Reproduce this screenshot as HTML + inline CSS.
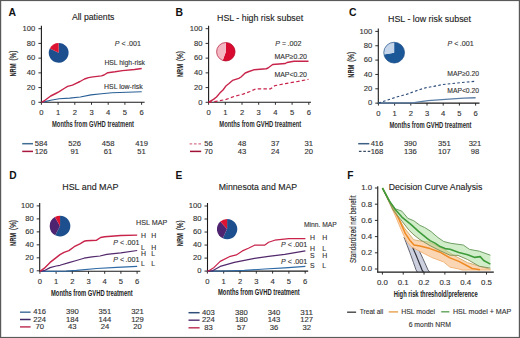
<!DOCTYPE html>
<html><head><meta charset="utf-8"><style>
html,body{margin:0;padding:0;background:#fff;width:520px;height:338px;overflow:hidden}
body{position:relative}
text{font-family:"Liberation Sans", sans-serif}
</style></head><body>
<svg width="520" height="338" viewBox="0 0 520 338" style="position:absolute;left:0;top:0">
<g font-family='"Liberation Sans", sans-serif'>
<rect x="0" y="0" width="520" height="338" fill="#fff"/>
<text x="8.60" y="15.70" font-size="10.4" fill="#111" text-anchor="start" font-weight="bold">A</text>
<text x="71.90" y="20.30" font-size="8.7" fill="#222" text-anchor="start" textLength="42.50" lengthAdjust="spacingAndGlyphs" stroke="#222" stroke-width="0.12">All patients</text>
<line x1="41.40" y1="25.70" x2="41.40" y2="102.90" stroke="#1a1a1a" stroke-width="1.1"/>
<line x1="38.40" y1="102.30" x2="41.40" y2="102.30" stroke="#1a1a1a" stroke-width="0.9"/>
<text x="35.30" y="104.60" font-size="7" fill="#333" text-anchor="end" textLength="4.25" lengthAdjust="spacingAndGlyphs" stroke="#333" stroke-width="0.12">0</text>
<line x1="38.40" y1="87.58" x2="41.40" y2="87.58" stroke="#1a1a1a" stroke-width="0.9"/>
<text x="35.30" y="89.88" font-size="7" fill="#333" text-anchor="end" textLength="8.50" lengthAdjust="spacingAndGlyphs" stroke="#333" stroke-width="0.12">20</text>
<line x1="38.40" y1="72.86" x2="41.40" y2="72.86" stroke="#1a1a1a" stroke-width="0.9"/>
<text x="35.30" y="75.16" font-size="7" fill="#333" text-anchor="end" textLength="8.50" lengthAdjust="spacingAndGlyphs" stroke="#333" stroke-width="0.12">40</text>
<line x1="38.40" y1="58.14" x2="41.40" y2="58.14" stroke="#1a1a1a" stroke-width="0.9"/>
<text x="35.30" y="60.44" font-size="7" fill="#333" text-anchor="end" textLength="8.50" lengthAdjust="spacingAndGlyphs" stroke="#333" stroke-width="0.12">60</text>
<line x1="38.40" y1="43.42" x2="41.40" y2="43.42" stroke="#1a1a1a" stroke-width="0.9"/>
<text x="35.30" y="45.72" font-size="7" fill="#333" text-anchor="end" textLength="8.50" lengthAdjust="spacingAndGlyphs" stroke="#333" stroke-width="0.12">80</text>
<line x1="38.40" y1="28.70" x2="41.40" y2="28.70" stroke="#1a1a1a" stroke-width="0.9"/>
<text x="35.30" y="31.00" font-size="7" fill="#333" text-anchor="end" textLength="12.75" lengthAdjust="spacingAndGlyphs" stroke="#333" stroke-width="0.12">100</text>
<line x1="40.85" y1="102.30" x2="144.60" y2="102.30" stroke="#1a1a1a" stroke-width="1.1"/>
<line x1="41.40" y1="102.30" x2="41.40" y2="104.80" stroke="#1a1a1a" stroke-width="0.9"/>
<text x="41.40" y="114.50" font-size="7" fill="#333" text-anchor="middle" textLength="4.25" lengthAdjust="spacingAndGlyphs" stroke="#333" stroke-width="0.12">0</text>
<line x1="58.10" y1="102.30" x2="58.10" y2="104.80" stroke="#1a1a1a" stroke-width="0.9"/>
<text x="58.10" y="114.50" font-size="7" fill="#333" text-anchor="middle" textLength="4.25" lengthAdjust="spacingAndGlyphs" stroke="#333" stroke-width="0.12">1</text>
<line x1="74.80" y1="102.30" x2="74.80" y2="104.80" stroke="#1a1a1a" stroke-width="0.9"/>
<text x="74.80" y="114.50" font-size="7" fill="#333" text-anchor="middle" textLength="4.25" lengthAdjust="spacingAndGlyphs" stroke="#333" stroke-width="0.12">2</text>
<line x1="91.50" y1="102.30" x2="91.50" y2="104.80" stroke="#1a1a1a" stroke-width="0.9"/>
<text x="91.50" y="114.50" font-size="7" fill="#333" text-anchor="middle" textLength="4.25" lengthAdjust="spacingAndGlyphs" stroke="#333" stroke-width="0.12">3</text>
<line x1="108.20" y1="102.30" x2="108.20" y2="104.80" stroke="#1a1a1a" stroke-width="0.9"/>
<text x="108.20" y="114.50" font-size="7" fill="#333" text-anchor="middle" textLength="4.25" lengthAdjust="spacingAndGlyphs" stroke="#333" stroke-width="0.12">4</text>
<line x1="124.90" y1="102.30" x2="124.90" y2="104.80" stroke="#1a1a1a" stroke-width="0.9"/>
<text x="124.90" y="114.50" font-size="7" fill="#333" text-anchor="middle" textLength="4.25" lengthAdjust="spacingAndGlyphs" stroke="#333" stroke-width="0.12">5</text>
<line x1="141.60" y1="102.30" x2="141.60" y2="104.80" stroke="#1a1a1a" stroke-width="0.9"/>
<text x="141.60" y="114.50" font-size="7" fill="#333" text-anchor="middle" textLength="4.25" lengthAdjust="spacingAndGlyphs" stroke="#333" stroke-width="0.12">6</text>
<text x="52.00" y="127.00" font-size="8.6" fill="#2a2a2a" text-anchor="start" font-weight="bold" textLength="82.00" lengthAdjust="spacingAndGlyphs">Months from GVHD treatment</text>
<text x="0.00" y="0.00" font-size="8.2" fill="#222" text-anchor="start" font-weight="bold" textLength="13.20" lengthAdjust="spacingAndGlyphs" transform="translate(16.1,76.6) rotate(-90)">NRM</text>
<text x="0.00" y="0.00" font-size="9.0" fill="#222" text-anchor="start" textLength="10.00" lengthAdjust="spacingAndGlyphs" stroke="#222" stroke-width="0.25" transform="translate(16.1,60.599999999999994) rotate(-90)">(%)</text>
<path d="M58.70,52.80 L58.70,42.90 A9.90,9.90 0 1 1 49.80,48.46 Z" fill="#1d4f8e"/>
<path d="M58.70,52.80 L49.80,48.46 A9.90,9.90 0 0 1 58.70,42.90 Z" fill="#dc1432"/>
<text x="114.70" y="46.00" font-size="7" fill="#333" text-anchor="start" font-style="italic" stroke="#333" stroke-width="0.12">P</text>
<text x="121.40" y="46.00" font-size="7" fill="#333" text-anchor="start" stroke="#333" stroke-width="0.12">&lt;</text>
<text x="127.00" y="46.00" font-size="7" fill="#333" text-anchor="start" textLength="13.90" lengthAdjust="spacingAndGlyphs" stroke="#333" stroke-width="0.12">.001</text>
<text x="104.40" y="64.80" font-size="7" fill="#333" text-anchor="start" textLength="40.60" lengthAdjust="spacingAndGlyphs" stroke="#333" stroke-width="0.12">HSL high-risk</text>
<text x="104.00" y="88.60" font-size="7" fill="#333" text-anchor="start" textLength="38.70" lengthAdjust="spacingAndGlyphs" stroke="#333" stroke-width="0.12">HSL low-risk</text>
<polyline points="41.40,102.30 46.00,101.40 50.70,100.20 59.20,98.70 69.70,98.10 80.30,97.00 90.90,94.90 101.50,93.80 112.00,92.80 126.90,92.20 141.70,91.70" fill="none" stroke="#2a5f96" stroke-width="1.1" stroke-linejoin="round"/>
<polyline points="41.40,102.30 44.00,101.00 48.00,98.00 50.70,96.00 55.70,93.50 59.20,91.70 64.90,88.00 67.60,86.40 72.50,85.10 76.10,83.30 80.00,81.50 84.50,79.00 88.50,77.60 93.00,76.90 101.50,75.90 104.00,75.00 107.80,72.70 115.00,71.80 122.60,70.60 134.50,69.50 141.70,68.50" fill="none" stroke="#c8234a" stroke-width="1.4" stroke-linejoin="round"/>
<line x1="22.20" y1="143.70" x2="33.00" y2="143.70" stroke="#3f6d93" stroke-width="1.5"/>
<line x1="22.20" y1="151.40" x2="33.00" y2="151.40" stroke="#a8173d" stroke-width="1.5"/>
<text x="41.20" y="146.10" font-size="6.9" fill="#333" text-anchor="middle" textLength="12.75" lengthAdjust="spacingAndGlyphs" stroke="#333" stroke-width="0.12">584</text>
<text x="41.20" y="153.60" font-size="6.9" fill="#333" text-anchor="middle" textLength="12.75" lengthAdjust="spacingAndGlyphs" stroke="#333" stroke-width="0.12">126</text>
<text x="74.65" y="146.10" font-size="6.9" fill="#333" text-anchor="middle" textLength="12.75" lengthAdjust="spacingAndGlyphs" stroke="#333" stroke-width="0.12">526</text>
<text x="74.65" y="153.60" font-size="6.9" fill="#333" text-anchor="middle" textLength="8.50" lengthAdjust="spacingAndGlyphs" stroke="#333" stroke-width="0.12">91</text>
<text x="108.10" y="146.10" font-size="6.9" fill="#333" text-anchor="middle" textLength="12.75" lengthAdjust="spacingAndGlyphs" stroke="#333" stroke-width="0.12">458</text>
<text x="108.10" y="153.60" font-size="6.9" fill="#333" text-anchor="middle" textLength="8.50" lengthAdjust="spacingAndGlyphs" stroke="#333" stroke-width="0.12">61</text>
<text x="141.55" y="146.10" font-size="6.9" fill="#333" text-anchor="middle" textLength="12.75" lengthAdjust="spacingAndGlyphs" stroke="#333" stroke-width="0.12">419</text>
<text x="141.55" y="153.60" font-size="6.9" fill="#333" text-anchor="middle" textLength="8.50" lengthAdjust="spacingAndGlyphs" stroke="#333" stroke-width="0.12">51</text>
<text x="175.40" y="15.70" font-size="10.4" fill="#111" text-anchor="start" font-weight="bold">B</text>
<text x="217.00" y="21.30" font-size="8.7" fill="#222" text-anchor="start" textLength="86.10" lengthAdjust="spacingAndGlyphs" stroke="#222" stroke-width="0.12">HSL - high risk subset</text>
<line x1="208.60" y1="25.70" x2="208.60" y2="102.90" stroke="#1a1a1a" stroke-width="1.1"/>
<line x1="205.60" y1="102.30" x2="208.60" y2="102.30" stroke="#1a1a1a" stroke-width="0.9"/>
<text x="202.40" y="104.60" font-size="7" fill="#333" text-anchor="end" textLength="4.25" lengthAdjust="spacingAndGlyphs" stroke="#333" stroke-width="0.12">0</text>
<line x1="205.60" y1="87.58" x2="208.60" y2="87.58" stroke="#1a1a1a" stroke-width="0.9"/>
<text x="202.40" y="89.88" font-size="7" fill="#333" text-anchor="end" textLength="8.50" lengthAdjust="spacingAndGlyphs" stroke="#333" stroke-width="0.12">20</text>
<line x1="205.60" y1="72.86" x2="208.60" y2="72.86" stroke="#1a1a1a" stroke-width="0.9"/>
<text x="202.40" y="75.16" font-size="7" fill="#333" text-anchor="end" textLength="8.50" lengthAdjust="spacingAndGlyphs" stroke="#333" stroke-width="0.12">40</text>
<line x1="205.60" y1="58.14" x2="208.60" y2="58.14" stroke="#1a1a1a" stroke-width="0.9"/>
<text x="202.40" y="60.44" font-size="7" fill="#333" text-anchor="end" textLength="8.50" lengthAdjust="spacingAndGlyphs" stroke="#333" stroke-width="0.12">60</text>
<line x1="205.60" y1="43.42" x2="208.60" y2="43.42" stroke="#1a1a1a" stroke-width="0.9"/>
<text x="202.40" y="45.72" font-size="7" fill="#333" text-anchor="end" textLength="8.50" lengthAdjust="spacingAndGlyphs" stroke="#333" stroke-width="0.12">80</text>
<line x1="205.60" y1="28.70" x2="208.60" y2="28.70" stroke="#1a1a1a" stroke-width="0.9"/>
<text x="202.40" y="31.00" font-size="7" fill="#333" text-anchor="end" textLength="12.75" lengthAdjust="spacingAndGlyphs" stroke="#333" stroke-width="0.12">100</text>
<line x1="208.05" y1="102.30" x2="311.00" y2="102.30" stroke="#1a1a1a" stroke-width="1.1"/>
<line x1="208.60" y1="102.30" x2="208.60" y2="104.80" stroke="#1a1a1a" stroke-width="0.9"/>
<text x="208.60" y="114.50" font-size="7" fill="#333" text-anchor="middle" textLength="4.25" lengthAdjust="spacingAndGlyphs" stroke="#333" stroke-width="0.12">0</text>
<line x1="225.30" y1="102.30" x2="225.30" y2="104.80" stroke="#1a1a1a" stroke-width="0.9"/>
<text x="225.30" y="114.50" font-size="7" fill="#333" text-anchor="middle" textLength="4.25" lengthAdjust="spacingAndGlyphs" stroke="#333" stroke-width="0.12">1</text>
<line x1="242.00" y1="102.30" x2="242.00" y2="104.80" stroke="#1a1a1a" stroke-width="0.9"/>
<text x="242.00" y="114.50" font-size="7" fill="#333" text-anchor="middle" textLength="4.25" lengthAdjust="spacingAndGlyphs" stroke="#333" stroke-width="0.12">2</text>
<line x1="258.70" y1="102.30" x2="258.70" y2="104.80" stroke="#1a1a1a" stroke-width="0.9"/>
<text x="258.70" y="114.50" font-size="7" fill="#333" text-anchor="middle" textLength="4.25" lengthAdjust="spacingAndGlyphs" stroke="#333" stroke-width="0.12">3</text>
<line x1="275.40" y1="102.30" x2="275.40" y2="104.80" stroke="#1a1a1a" stroke-width="0.9"/>
<text x="275.40" y="114.50" font-size="7" fill="#333" text-anchor="middle" textLength="4.25" lengthAdjust="spacingAndGlyphs" stroke="#333" stroke-width="0.12">4</text>
<line x1="292.10" y1="102.30" x2="292.10" y2="104.80" stroke="#1a1a1a" stroke-width="0.9"/>
<text x="292.10" y="114.50" font-size="7" fill="#333" text-anchor="middle" textLength="4.25" lengthAdjust="spacingAndGlyphs" stroke="#333" stroke-width="0.12">5</text>
<line x1="308.80" y1="102.30" x2="308.80" y2="104.80" stroke="#1a1a1a" stroke-width="0.9"/>
<text x="308.80" y="114.50" font-size="7" fill="#333" text-anchor="middle" textLength="4.25" lengthAdjust="spacingAndGlyphs" stroke="#333" stroke-width="0.12">6</text>
<text x="219.30" y="127.00" font-size="8.6" fill="#2a2a2a" text-anchor="start" font-weight="bold" textLength="82.00" lengthAdjust="spacingAndGlyphs">Months from GVHD treatment</text>
<text x="0.00" y="0.00" font-size="8.2" fill="#222" text-anchor="start" font-weight="bold" textLength="13.20" lengthAdjust="spacingAndGlyphs" transform="translate(183.3,77.1) rotate(-90)">NRM</text>
<text x="0.00" y="0.00" font-size="9.0" fill="#222" text-anchor="start" textLength="10.00" lengthAdjust="spacingAndGlyphs" stroke="#222" stroke-width="0.25" transform="translate(183.3,61.099999999999994) rotate(-90)">(%)</text>
<path d="M225.85,51.75 L225.85,42.50 A9.25,9.25 0 1 1 222.69,60.44 Z" fill="#d80a30"/>
<path d="M225.85,51.75 L222.69,60.44 A9.25,9.25 0 0 1 225.85,42.50 Z" fill="#f3b8c4"/>
<circle cx="225.85" cy="51.75" r="9.25" fill="none" stroke="#b3122f" stroke-width="0.7"/>
<text x="275.30" y="45.60" font-size="7" fill="#333" text-anchor="start" font-style="italic" stroke="#333" stroke-width="0.12">P</text>
<text x="282.00" y="45.60" font-size="7" fill="#333" text-anchor="start" stroke="#333" stroke-width="0.12">=</text>
<text x="287.60" y="45.60" font-size="7" fill="#333" text-anchor="start" textLength="13.90" lengthAdjust="spacingAndGlyphs" stroke="#333" stroke-width="0.12">.002</text>
<text x="274.40" y="59.00" font-size="7" fill="#333" text-anchor="start" textLength="32.60" lengthAdjust="spacingAndGlyphs" stroke="#333" stroke-width="0.12">MAP≥0.20</text>
<text x="274.40" y="77.00" font-size="7" fill="#333" text-anchor="start" textLength="32.60" lengthAdjust="spacingAndGlyphs" stroke="#333" stroke-width="0.12">MAP&lt;0.20</text>
<polyline points="208.60,102.30 217.70,101.10 226.20,99.40 234.60,96.25 243.10,94.10 250.00,91.50 255.80,88.85 270.60,88.85 274.80,85.70 285.40,83.60 298.10,81.40 308.50,79.30" fill="none" stroke="#c8234a" stroke-width="1.2" stroke-linejoin="round" stroke-dasharray="3.4,2.3"/>
<polyline points="208.60,102.30 209.50,101.60 213.50,99.40 216.50,97.00 219.80,93.10 223.00,90.00 226.20,85.70 229.00,83.50 232.50,80.40 238.80,78.30 241.00,77.00 245.20,73.00 249.00,71.50 253.70,69.80 266.30,68.75 268.00,68.00 272.70,64.50 285.40,63.50 287.00,62.50 293.90,61.30 308.50,61.30" fill="none" stroke="#c8234a" stroke-width="1.4" stroke-linejoin="round"/>
<line x1="189.60" y1="143.90" x2="201.50" y2="143.90" stroke="#d9738a" stroke-width="1.4" stroke-dasharray="2.6,1.8"/>
<line x1="190.00" y1="151.40" x2="201.20" y2="151.40" stroke="#9e1236" stroke-width="1.5"/>
<text x="208.50" y="146.10" font-size="6.9" fill="#333" text-anchor="middle" textLength="8.50" lengthAdjust="spacingAndGlyphs" stroke="#333" stroke-width="0.12">56</text>
<text x="208.50" y="153.60" font-size="6.9" fill="#333" text-anchor="middle" textLength="8.50" lengthAdjust="spacingAndGlyphs" stroke="#333" stroke-width="0.12">70</text>
<text x="241.90" y="146.10" font-size="6.9" fill="#333" text-anchor="middle" textLength="8.50" lengthAdjust="spacingAndGlyphs" stroke="#333" stroke-width="0.12">48</text>
<text x="241.90" y="153.60" font-size="6.9" fill="#333" text-anchor="middle" textLength="8.50" lengthAdjust="spacingAndGlyphs" stroke="#333" stroke-width="0.12">43</text>
<text x="275.30" y="146.10" font-size="6.9" fill="#333" text-anchor="middle" textLength="8.50" lengthAdjust="spacingAndGlyphs" stroke="#333" stroke-width="0.12">37</text>
<text x="275.30" y="153.60" font-size="6.9" fill="#333" text-anchor="middle" textLength="8.50" lengthAdjust="spacingAndGlyphs" stroke="#333" stroke-width="0.12">24</text>
<text x="308.70" y="146.10" font-size="6.9" fill="#333" text-anchor="middle" textLength="8.50" lengthAdjust="spacingAndGlyphs" stroke="#333" stroke-width="0.12">31</text>
<text x="308.70" y="153.60" font-size="6.9" fill="#333" text-anchor="middle" textLength="8.50" lengthAdjust="spacingAndGlyphs" stroke="#333" stroke-width="0.12">20</text>
<text x="349.10" y="15.70" font-size="10.4" fill="#111" text-anchor="start" font-weight="bold">C</text>
<text x="388.00" y="22.20" font-size="8.7" fill="#222" text-anchor="start" textLength="83.00" lengthAdjust="spacingAndGlyphs" stroke="#222" stroke-width="0.12">HSL - low risk subset</text>
<line x1="378.30" y1="28.40" x2="378.30" y2="103.75" stroke="#1a1a1a" stroke-width="1.1"/>
<line x1="375.30" y1="103.15" x2="378.30" y2="103.15" stroke="#1a1a1a" stroke-width="0.9"/>
<text x="372.20" y="105.45" font-size="7" fill="#333" text-anchor="end" textLength="4.25" lengthAdjust="spacingAndGlyphs" stroke="#333" stroke-width="0.12">0</text>
<line x1="375.30" y1="88.80" x2="378.30" y2="88.80" stroke="#1a1a1a" stroke-width="0.9"/>
<text x="372.20" y="91.10" font-size="7" fill="#333" text-anchor="end" textLength="8.50" lengthAdjust="spacingAndGlyphs" stroke="#333" stroke-width="0.12">20</text>
<line x1="375.30" y1="74.45" x2="378.30" y2="74.45" stroke="#1a1a1a" stroke-width="0.9"/>
<text x="372.20" y="76.75" font-size="7" fill="#333" text-anchor="end" textLength="8.50" lengthAdjust="spacingAndGlyphs" stroke="#333" stroke-width="0.12">40</text>
<line x1="375.30" y1="60.10" x2="378.30" y2="60.10" stroke="#1a1a1a" stroke-width="0.9"/>
<text x="372.20" y="62.40" font-size="7" fill="#333" text-anchor="end" textLength="8.50" lengthAdjust="spacingAndGlyphs" stroke="#333" stroke-width="0.12">60</text>
<line x1="375.30" y1="45.75" x2="378.30" y2="45.75" stroke="#1a1a1a" stroke-width="0.9"/>
<text x="372.20" y="48.05" font-size="7" fill="#333" text-anchor="end" textLength="8.50" lengthAdjust="spacingAndGlyphs" stroke="#333" stroke-width="0.12">80</text>
<line x1="375.30" y1="31.40" x2="378.30" y2="31.40" stroke="#1a1a1a" stroke-width="0.9"/>
<text x="372.20" y="33.70" font-size="7" fill="#333" text-anchor="end" textLength="12.75" lengthAdjust="spacingAndGlyphs" stroke="#333" stroke-width="0.12">100</text>
<line x1="377.85" y1="103.10" x2="479.50" y2="103.10" stroke="#1a1a1a" stroke-width="1.1"/>
<line x1="378.40" y1="103.10" x2="378.40" y2="105.60" stroke="#1a1a1a" stroke-width="0.9"/>
<text x="378.40" y="115.70" font-size="7" fill="#333" text-anchor="middle" textLength="4.25" lengthAdjust="spacingAndGlyphs" stroke="#333" stroke-width="0.12">0</text>
<line x1="394.60" y1="103.10" x2="394.60" y2="105.60" stroke="#1a1a1a" stroke-width="0.9"/>
<text x="394.60" y="115.70" font-size="7" fill="#333" text-anchor="middle" textLength="4.25" lengthAdjust="spacingAndGlyphs" stroke="#333" stroke-width="0.12">1</text>
<line x1="410.80" y1="103.10" x2="410.80" y2="105.60" stroke="#1a1a1a" stroke-width="0.9"/>
<text x="410.80" y="115.70" font-size="7" fill="#333" text-anchor="middle" textLength="4.25" lengthAdjust="spacingAndGlyphs" stroke="#333" stroke-width="0.12">2</text>
<line x1="427.00" y1="103.10" x2="427.00" y2="105.60" stroke="#1a1a1a" stroke-width="0.9"/>
<text x="427.00" y="115.70" font-size="7" fill="#333" text-anchor="middle" textLength="4.25" lengthAdjust="spacingAndGlyphs" stroke="#333" stroke-width="0.12">3</text>
<line x1="443.20" y1="103.10" x2="443.20" y2="105.60" stroke="#1a1a1a" stroke-width="0.9"/>
<text x="443.20" y="115.70" font-size="7" fill="#333" text-anchor="middle" textLength="4.25" lengthAdjust="spacingAndGlyphs" stroke="#333" stroke-width="0.12">4</text>
<line x1="459.40" y1="103.10" x2="459.40" y2="105.60" stroke="#1a1a1a" stroke-width="0.9"/>
<text x="459.40" y="115.70" font-size="7" fill="#333" text-anchor="middle" textLength="4.25" lengthAdjust="spacingAndGlyphs" stroke="#333" stroke-width="0.12">5</text>
<line x1="475.60" y1="103.10" x2="475.60" y2="105.60" stroke="#1a1a1a" stroke-width="0.9"/>
<text x="475.60" y="115.70" font-size="7" fill="#333" text-anchor="middle" textLength="4.25" lengthAdjust="spacingAndGlyphs" stroke="#333" stroke-width="0.12">6</text>
<text x="389.40" y="127.60" font-size="8.6" fill="#2a2a2a" text-anchor="start" font-weight="bold" textLength="82.00" lengthAdjust="spacingAndGlyphs">Months from GVHD treatment</text>
<text x="0.00" y="0.00" font-size="8.2" fill="#222" text-anchor="start" font-weight="bold" textLength="13.20" lengthAdjust="spacingAndGlyphs" transform="translate(353.5,77.8) rotate(-90)">NRM</text>
<text x="0.00" y="0.00" font-size="9.0" fill="#222" text-anchor="start" textLength="10.00" lengthAdjust="spacingAndGlyphs" stroke="#222" stroke-width="0.25" transform="translate(353.5,61.8) rotate(-90)">(%)</text>
<path d="M394.15,52.65 L394.15,42.25 A10.40,10.40 0 1 1 383.91,54.46 Z" fill="#1c5797"/>
<path d="M394.15,52.65 L383.91,54.46 A10.40,10.40 0 0 1 394.15,42.25 Z" fill="#c5d6ea"/>
<circle cx="394.15" cy="52.65" r="10.4" fill="none" stroke="#1c4f88" stroke-width="0.7"/>
<text x="447.45" y="45.60" font-size="7" fill="#333" text-anchor="start" font-style="italic" stroke="#333" stroke-width="0.12">P</text>
<text x="454.15" y="45.60" font-size="7" fill="#333" text-anchor="start" stroke="#333" stroke-width="0.12">&lt;</text>
<text x="459.75" y="45.60" font-size="7" fill="#333" text-anchor="start" textLength="13.90" lengthAdjust="spacingAndGlyphs" stroke="#333" stroke-width="0.12">.001</text>
<text x="447.25" y="76.40" font-size="7" fill="#333" text-anchor="start" textLength="31.80" lengthAdjust="spacingAndGlyphs" stroke="#333" stroke-width="0.12">MAP≥0.20</text>
<text x="447.25" y="93.00" font-size="7" fill="#333" text-anchor="start" textLength="31.80" lengthAdjust="spacingAndGlyphs" stroke="#333" stroke-width="0.12">MAP&lt;0.20</text>
<polyline points="378.50,103.00 413.00,102.90 417.30,102.10 427.90,100.60 449.00,99.10 463.90,98.10 475.60,97.70" fill="none" stroke="#5a7ea6" stroke-width="1.4" stroke-linejoin="round"/>
<polyline points="378.50,103.10 381.90,101.90 395.00,97.50 406.25,94.40 415.00,91.25 420.00,89.50 426.25,87.60 433.75,86.40 442.50,84.50 452.50,83.50 461.25,82.60 467.50,82.00 475.60,81.30" fill="none" stroke="#2b4a78" stroke-width="1.1" stroke-linejoin="round" stroke-dasharray="2.6,2.2"/>
<line x1="358.20" y1="143.70" x2="369.30" y2="143.70" stroke="#3d5f84" stroke-width="1.5"/>
<line x1="358.90" y1="151.40" x2="370.50" y2="151.40" stroke="#3b4d66" stroke-width="1.1" stroke-dasharray="2.6,1.8"/>
<text x="377.00" y="146.00" font-size="6.9" fill="#333" text-anchor="middle" textLength="12.75" lengthAdjust="spacingAndGlyphs" stroke="#333" stroke-width="0.12">416</text>
<text x="377.00" y="153.60" font-size="6.9" fill="#333" text-anchor="middle" textLength="12.75" lengthAdjust="spacingAndGlyphs" stroke="#333" stroke-width="0.12">168</text>
<text x="410.30" y="146.00" font-size="6.9" fill="#333" text-anchor="middle" textLength="12.75" lengthAdjust="spacingAndGlyphs" stroke="#333" stroke-width="0.12">390</text>
<text x="410.30" y="153.60" font-size="6.9" fill="#333" text-anchor="middle" textLength="12.75" lengthAdjust="spacingAndGlyphs" stroke="#333" stroke-width="0.12">136</text>
<text x="444.30" y="146.00" font-size="6.9" fill="#333" text-anchor="middle" textLength="12.75" lengthAdjust="spacingAndGlyphs" stroke="#333" stroke-width="0.12">351</text>
<text x="444.30" y="153.60" font-size="6.9" fill="#333" text-anchor="middle" textLength="12.75" lengthAdjust="spacingAndGlyphs" stroke="#333" stroke-width="0.12">107</text>
<text x="475.00" y="146.00" font-size="6.9" fill="#333" text-anchor="middle" textLength="12.75" lengthAdjust="spacingAndGlyphs" stroke="#333" stroke-width="0.12">321</text>
<text x="475.00" y="153.60" font-size="6.9" fill="#333" text-anchor="middle" textLength="8.50" lengthAdjust="spacingAndGlyphs" stroke="#333" stroke-width="0.12">98</text>
<text x="9.30" y="179.40" font-size="10.2" fill="#111" text-anchor="start" font-weight="bold">D</text>
<text x="62.20" y="190.20" font-size="8.7" fill="#222" text-anchor="start" textLength="56.30" lengthAdjust="spacingAndGlyphs" stroke="#222" stroke-width="0.12">HSL and MAP</text>
<line x1="39.70" y1="202.90" x2="39.70" y2="271.40" stroke="#1a1a1a" stroke-width="1.1"/>
<line x1="36.70" y1="270.80" x2="39.70" y2="270.80" stroke="#1a1a1a" stroke-width="0.9"/>
<text x="33.80" y="273.10" font-size="7" fill="#333" text-anchor="end" textLength="4.25" lengthAdjust="spacingAndGlyphs" stroke="#333" stroke-width="0.12">0</text>
<line x1="36.70" y1="257.82" x2="39.70" y2="257.82" stroke="#1a1a1a" stroke-width="0.9"/>
<text x="33.80" y="260.12" font-size="7" fill="#333" text-anchor="end" textLength="8.50" lengthAdjust="spacingAndGlyphs" stroke="#333" stroke-width="0.12">20</text>
<line x1="36.70" y1="244.84" x2="39.70" y2="244.84" stroke="#1a1a1a" stroke-width="0.9"/>
<text x="33.80" y="247.14" font-size="7" fill="#333" text-anchor="end" textLength="8.50" lengthAdjust="spacingAndGlyphs" stroke="#333" stroke-width="0.12">40</text>
<line x1="36.70" y1="231.86" x2="39.70" y2="231.86" stroke="#1a1a1a" stroke-width="0.9"/>
<text x="33.80" y="234.16" font-size="7" fill="#333" text-anchor="end" textLength="8.50" lengthAdjust="spacingAndGlyphs" stroke="#333" stroke-width="0.12">60</text>
<line x1="36.70" y1="218.88" x2="39.70" y2="218.88" stroke="#1a1a1a" stroke-width="0.9"/>
<text x="33.80" y="221.18" font-size="7" fill="#333" text-anchor="end" textLength="8.50" lengthAdjust="spacingAndGlyphs" stroke="#333" stroke-width="0.12">80</text>
<line x1="36.70" y1="205.90" x2="39.70" y2="205.90" stroke="#1a1a1a" stroke-width="0.9"/>
<text x="33.80" y="208.20" font-size="7" fill="#333" text-anchor="end" textLength="12.75" lengthAdjust="spacingAndGlyphs" stroke="#333" stroke-width="0.12">100</text>
<line x1="39.35" y1="271.30" x2="140.30" y2="271.30" stroke="#1a1a1a" stroke-width="1.1"/>
<line x1="39.90" y1="271.30" x2="39.90" y2="273.80" stroke="#1a1a1a" stroke-width="0.9"/>
<text x="39.90" y="283.80" font-size="7" fill="#333" text-anchor="middle" textLength="4.25" lengthAdjust="spacingAndGlyphs" stroke="#333" stroke-width="0.12">0</text>
<line x1="56.10" y1="271.30" x2="56.10" y2="273.80" stroke="#1a1a1a" stroke-width="0.9"/>
<text x="56.10" y="283.80" font-size="7" fill="#333" text-anchor="middle" textLength="4.25" lengthAdjust="spacingAndGlyphs" stroke="#333" stroke-width="0.12">1</text>
<line x1="72.30" y1="271.30" x2="72.30" y2="273.80" stroke="#1a1a1a" stroke-width="0.9"/>
<text x="72.30" y="283.80" font-size="7" fill="#333" text-anchor="middle" textLength="4.25" lengthAdjust="spacingAndGlyphs" stroke="#333" stroke-width="0.12">2</text>
<line x1="88.50" y1="271.30" x2="88.50" y2="273.80" stroke="#1a1a1a" stroke-width="0.9"/>
<text x="88.50" y="283.80" font-size="7" fill="#333" text-anchor="middle" textLength="4.25" lengthAdjust="spacingAndGlyphs" stroke="#333" stroke-width="0.12">3</text>
<line x1="104.70" y1="271.30" x2="104.70" y2="273.80" stroke="#1a1a1a" stroke-width="0.9"/>
<text x="104.70" y="283.80" font-size="7" fill="#333" text-anchor="middle" textLength="4.25" lengthAdjust="spacingAndGlyphs" stroke="#333" stroke-width="0.12">4</text>
<line x1="120.90" y1="271.30" x2="120.90" y2="273.80" stroke="#1a1a1a" stroke-width="0.9"/>
<text x="120.90" y="283.80" font-size="7" fill="#333" text-anchor="middle" textLength="4.25" lengthAdjust="spacingAndGlyphs" stroke="#333" stroke-width="0.12">5</text>
<line x1="137.10" y1="271.30" x2="137.10" y2="273.80" stroke="#1a1a1a" stroke-width="0.9"/>
<text x="137.10" y="283.80" font-size="7" fill="#333" text-anchor="middle" textLength="4.25" lengthAdjust="spacingAndGlyphs" stroke="#333" stroke-width="0.12">6</text>
<text x="51.00" y="295.60" font-size="8.6" fill="#222" text-anchor="start" font-weight="bold" textLength="81.70" lengthAdjust="spacingAndGlyphs">Months from GVHD treatment</text>
<text x="0.00" y="0.00" font-size="8.2" fill="#222" text-anchor="start" font-weight="bold" textLength="13.20" lengthAdjust="spacingAndGlyphs" transform="translate(16.3,246.0) rotate(-90)">NRM</text>
<text x="0.00" y="0.00" font-size="9.0" fill="#222" text-anchor="start" textLength="10.00" lengthAdjust="spacingAndGlyphs" stroke="#222" stroke-width="0.25" transform="translate(16.3,230.0) rotate(-90)">(%)</text>
<path d="M60.05,226.05 L60.05,215.70 A10.35,10.35 0 1 1 55.19,235.19 Z" fill="#1d4f8e"/>
<path d="M60.05,226.05 L55.19,235.19 A10.35,10.35 0 0 1 54.87,217.09 Z" fill="#4e2470"/>
<path d="M60.05,226.05 L54.87,217.09 A10.35,10.35 0 0 1 60.05,215.70 Z" fill="#dc1432"/>
<text x="136.00" y="224.80" font-size="7" fill="#333" text-anchor="start" textLength="31.20" lengthAdjust="spacingAndGlyphs" stroke="#333" stroke-width="0.12">HSL MAP</text>
<text x="141.00" y="238.00" font-size="6.9" fill="#333" text-anchor="start" stroke="#333" stroke-width="0.12">H</text>
<text x="151.20" y="238.00" font-size="6.9" fill="#333" text-anchor="start" stroke="#333" stroke-width="0.12">H</text>
<text x="141.00" y="250.10" font-size="6.9" fill="#333" text-anchor="start" stroke="#333" stroke-width="0.12">L</text>
<text x="151.20" y="250.10" font-size="6.9" fill="#333" text-anchor="start" stroke="#333" stroke-width="0.12">H</text>
<text x="141.00" y="256.10" font-size="6.9" fill="#333" text-anchor="start" stroke="#333" stroke-width="0.12">H</text>
<text x="151.20" y="256.10" font-size="6.9" fill="#333" text-anchor="start" stroke="#333" stroke-width="0.12">L</text>
<text x="141.00" y="265.90" font-size="6.9" fill="#333" text-anchor="start" stroke="#333" stroke-width="0.12">L</text>
<text x="151.20" y="265.90" font-size="6.9" fill="#333" text-anchor="start" stroke="#333" stroke-width="0.12">L</text>
<text x="113.20" y="245.00" font-size="7" fill="#333" text-anchor="start" font-style="italic" stroke="#333" stroke-width="0.12">P</text>
<text x="119.90" y="245.00" font-size="7" fill="#333" text-anchor="start" stroke="#333" stroke-width="0.12">&lt;</text>
<text x="125.50" y="245.00" font-size="7" fill="#333" text-anchor="start" textLength="13.90" lengthAdjust="spacingAndGlyphs" stroke="#333" stroke-width="0.12">.001</text>
<text x="113.20" y="261.50" font-size="7" fill="#333" text-anchor="start" font-style="italic" stroke="#333" stroke-width="0.12">P</text>
<text x="119.90" y="261.50" font-size="7" fill="#333" text-anchor="start" stroke="#333" stroke-width="0.12">&lt;</text>
<text x="125.50" y="261.50" font-size="7" fill="#333" text-anchor="start" textLength="13.90" lengthAdjust="spacingAndGlyphs" stroke="#333" stroke-width="0.12">.001</text>
<polyline points="39.90,271.30 66.00,271.10 76.40,270.40 96.60,268.50 116.80,267.40 137.20,266.40" fill="none" stroke="#2e6aa6" stroke-width="1.2" stroke-linejoin="round"/>
<polyline points="39.90,271.30 44.10,270.70 50.10,267.60 56.20,266.00 60.00,265.30 68.90,262.60 76.40,260.50 84.00,258.20 92.00,256.80 100.00,256.00 106.70,254.30 120.80,252.80 137.20,250.50" fill="none" stroke="#52296c" stroke-width="1.2" stroke-linejoin="round"/>
<polyline points="39.90,271.30 44.10,268.40 50.10,262.40 56.20,257.60 60.00,254.60 64.00,252.30 68.90,250.60 74.20,246.70 80.40,243.60 84.00,241.30 86.50,240.80 96.60,240.20 100.60,237.50 104.70,236.70 120.80,235.50 137.20,235.10" fill="none" stroke="#c8234a" stroke-width="1.4" stroke-linejoin="round"/>
<line x1="20.00" y1="312.20" x2="30.60" y2="312.20" stroke="#4a74a0" stroke-width="1.5"/>
<line x1="20.00" y1="319.50" x2="30.60" y2="319.50" stroke="#3d2a66" stroke-width="1.5"/>
<line x1="20.00" y1="326.90" x2="30.60" y2="326.90" stroke="#c0375a" stroke-width="1.5"/>
<text x="39.70" y="314.30" font-size="6.9" fill="#333" text-anchor="middle" textLength="12.75" lengthAdjust="spacingAndGlyphs" stroke="#333" stroke-width="0.12">416</text>
<text x="39.70" y="321.80" font-size="6.9" fill="#333" text-anchor="middle" textLength="12.75" lengthAdjust="spacingAndGlyphs" stroke="#333" stroke-width="0.12">224</text>
<text x="39.70" y="329.20" font-size="6.9" fill="#333" text-anchor="middle" textLength="8.50" lengthAdjust="spacingAndGlyphs" stroke="#333" stroke-width="0.12">70</text>
<text x="72.30" y="314.30" font-size="6.9" fill="#333" text-anchor="middle" textLength="12.75" lengthAdjust="spacingAndGlyphs" stroke="#333" stroke-width="0.12">390</text>
<text x="72.30" y="321.80" font-size="6.9" fill="#333" text-anchor="middle" textLength="12.75" lengthAdjust="spacingAndGlyphs" stroke="#333" stroke-width="0.12">184</text>
<text x="72.30" y="329.20" font-size="6.9" fill="#333" text-anchor="middle" textLength="8.50" lengthAdjust="spacingAndGlyphs" stroke="#333" stroke-width="0.12">43</text>
<text x="104.90" y="314.30" font-size="6.9" fill="#333" text-anchor="middle" textLength="12.75" lengthAdjust="spacingAndGlyphs" stroke="#333" stroke-width="0.12">351</text>
<text x="104.90" y="321.80" font-size="6.9" fill="#333" text-anchor="middle" textLength="12.75" lengthAdjust="spacingAndGlyphs" stroke="#333" stroke-width="0.12">144</text>
<text x="104.90" y="329.20" font-size="6.9" fill="#333" text-anchor="middle" textLength="8.50" lengthAdjust="spacingAndGlyphs" stroke="#333" stroke-width="0.12">24</text>
<text x="137.50" y="314.30" font-size="6.9" fill="#333" text-anchor="middle" textLength="12.75" lengthAdjust="spacingAndGlyphs" stroke="#333" stroke-width="0.12">321</text>
<text x="137.50" y="321.80" font-size="6.9" fill="#333" text-anchor="middle" textLength="12.75" lengthAdjust="spacingAndGlyphs" stroke="#333" stroke-width="0.12">129</text>
<text x="137.50" y="329.20" font-size="6.9" fill="#333" text-anchor="middle" textLength="8.50" lengthAdjust="spacingAndGlyphs" stroke="#333" stroke-width="0.12">20</text>
<text x="175.40" y="179.10" font-size="10.2" fill="#111" text-anchor="start" font-weight="bold">E</text>
<text x="218.75" y="190.00" font-size="8.7" fill="#222" text-anchor="start" textLength="78.30" lengthAdjust="spacingAndGlyphs" stroke="#222" stroke-width="0.12">Minnesota and MAP</text>
<line x1="207.50" y1="203.00" x2="207.50" y2="271.70" stroke="#1a1a1a" stroke-width="1.1"/>
<line x1="204.50" y1="271.10" x2="207.50" y2="271.10" stroke="#1a1a1a" stroke-width="0.9"/>
<text x="201.40" y="273.40" font-size="7" fill="#333" text-anchor="end" textLength="4.25" lengthAdjust="spacingAndGlyphs" stroke="#333" stroke-width="0.12">0</text>
<line x1="204.50" y1="258.08" x2="207.50" y2="258.08" stroke="#1a1a1a" stroke-width="0.9"/>
<text x="201.40" y="260.38" font-size="7" fill="#333" text-anchor="end" textLength="8.50" lengthAdjust="spacingAndGlyphs" stroke="#333" stroke-width="0.12">20</text>
<line x1="204.50" y1="245.06" x2="207.50" y2="245.06" stroke="#1a1a1a" stroke-width="0.9"/>
<text x="201.40" y="247.36" font-size="7" fill="#333" text-anchor="end" textLength="8.50" lengthAdjust="spacingAndGlyphs" stroke="#333" stroke-width="0.12">40</text>
<line x1="204.50" y1="232.04" x2="207.50" y2="232.04" stroke="#1a1a1a" stroke-width="0.9"/>
<text x="201.40" y="234.34" font-size="7" fill="#333" text-anchor="end" textLength="8.50" lengthAdjust="spacingAndGlyphs" stroke="#333" stroke-width="0.12">60</text>
<line x1="204.50" y1="219.02" x2="207.50" y2="219.02" stroke="#1a1a1a" stroke-width="0.9"/>
<text x="201.40" y="221.32" font-size="7" fill="#333" text-anchor="end" textLength="8.50" lengthAdjust="spacingAndGlyphs" stroke="#333" stroke-width="0.12">80</text>
<line x1="204.50" y1="206.00" x2="207.50" y2="206.00" stroke="#1a1a1a" stroke-width="0.9"/>
<text x="201.40" y="208.30" font-size="7" fill="#333" text-anchor="end" textLength="12.75" lengthAdjust="spacingAndGlyphs" stroke="#333" stroke-width="0.12">100</text>
<line x1="206.85" y1="271.10" x2="308.20" y2="271.10" stroke="#1a1a1a" stroke-width="1.1"/>
<line x1="207.40" y1="271.10" x2="207.40" y2="273.60" stroke="#1a1a1a" stroke-width="0.9"/>
<text x="207.40" y="283.80" font-size="7" fill="#333" text-anchor="middle" textLength="4.25" lengthAdjust="spacingAndGlyphs" stroke="#333" stroke-width="0.12">0</text>
<line x1="223.70" y1="271.10" x2="223.70" y2="273.60" stroke="#1a1a1a" stroke-width="0.9"/>
<text x="223.70" y="283.80" font-size="7" fill="#333" text-anchor="middle" textLength="4.25" lengthAdjust="spacingAndGlyphs" stroke="#333" stroke-width="0.12">1</text>
<line x1="240.00" y1="271.10" x2="240.00" y2="273.60" stroke="#1a1a1a" stroke-width="0.9"/>
<text x="240.00" y="283.80" font-size="7" fill="#333" text-anchor="middle" textLength="4.25" lengthAdjust="spacingAndGlyphs" stroke="#333" stroke-width="0.12">2</text>
<line x1="256.30" y1="271.10" x2="256.30" y2="273.60" stroke="#1a1a1a" stroke-width="0.9"/>
<text x="256.30" y="283.80" font-size="7" fill="#333" text-anchor="middle" textLength="4.25" lengthAdjust="spacingAndGlyphs" stroke="#333" stroke-width="0.12">3</text>
<line x1="272.60" y1="271.10" x2="272.60" y2="273.60" stroke="#1a1a1a" stroke-width="0.9"/>
<text x="272.60" y="283.80" font-size="7" fill="#333" text-anchor="middle" textLength="4.25" lengthAdjust="spacingAndGlyphs" stroke="#333" stroke-width="0.12">4</text>
<line x1="288.90" y1="271.10" x2="288.90" y2="273.60" stroke="#1a1a1a" stroke-width="0.9"/>
<text x="288.90" y="283.80" font-size="7" fill="#333" text-anchor="middle" textLength="4.25" lengthAdjust="spacingAndGlyphs" stroke="#333" stroke-width="0.12">5</text>
<line x1="305.20" y1="271.10" x2="305.20" y2="273.60" stroke="#1a1a1a" stroke-width="0.9"/>
<text x="305.20" y="283.80" font-size="7" fill="#333" text-anchor="middle" textLength="4.25" lengthAdjust="spacingAndGlyphs" stroke="#333" stroke-width="0.12">6</text>
<text x="218.00" y="295.40" font-size="8.6" fill="#222" text-anchor="start" font-weight="bold" textLength="81.70" lengthAdjust="spacingAndGlyphs">Months from GVHD treatment</text>
<text x="0.00" y="0.00" font-size="8.2" fill="#222" text-anchor="start" font-weight="bold" textLength="13.20" lengthAdjust="spacingAndGlyphs" transform="translate(183.4,246.3) rotate(-90)">NRM</text>
<text x="0.00" y="0.00" font-size="9.0" fill="#222" text-anchor="start" textLength="10.00" lengthAdjust="spacingAndGlyphs" stroke="#222" stroke-width="0.25" transform="translate(183.4,230.3) rotate(-90)">(%)</text>
<path d="M227.10,229.10 L227.10,218.90 A10.20,10.20 0 1 1 222.79,238.34 Z" fill="#1d4f8e"/>
<path d="M227.10,229.10 L222.79,238.34 A10.20,10.20 0 0 1 220.27,221.52 Z" fill="#4e2470"/>
<path d="M227.10,229.10 L220.27,221.52 A10.20,10.20 0 0 1 227.10,218.90 Z" fill="#dc1432"/>
<text x="303.90" y="226.50" font-size="7" fill="#333" text-anchor="start" textLength="32.80" lengthAdjust="spacingAndGlyphs" stroke="#333" stroke-width="0.12">Minn. MAP</text>
<text x="310.10" y="239.80" font-size="6.9" fill="#333" text-anchor="start" stroke="#333" stroke-width="0.12">H</text>
<text x="322.20" y="239.80" font-size="6.9" fill="#333" text-anchor="start" stroke="#333" stroke-width="0.12">H</text>
<text x="310.10" y="251.30" font-size="6.9" fill="#333" text-anchor="start" stroke="#333" stroke-width="0.12">H</text>
<text x="322.20" y="251.30" font-size="6.9" fill="#333" text-anchor="start" stroke="#333" stroke-width="0.12">L</text>
<text x="310.10" y="257.90" font-size="6.9" fill="#333" text-anchor="start" stroke="#333" stroke-width="0.12">S</text>
<text x="322.20" y="257.90" font-size="6.9" fill="#333" text-anchor="start" stroke="#333" stroke-width="0.12">H</text>
<text x="310.10" y="267.70" font-size="6.9" fill="#333" text-anchor="start" stroke="#333" stroke-width="0.12">S</text>
<text x="322.20" y="267.70" font-size="6.9" fill="#333" text-anchor="start" stroke="#333" stroke-width="0.12">L</text>
<text x="281.10" y="247.00" font-size="7" fill="#333" text-anchor="start" font-style="italic" stroke="#333" stroke-width="0.12">P</text>
<text x="287.80" y="247.00" font-size="7" fill="#333" text-anchor="start" stroke="#333" stroke-width="0.12">&lt;</text>
<text x="293.40" y="247.00" font-size="7" fill="#333" text-anchor="start" textLength="13.90" lengthAdjust="spacingAndGlyphs" stroke="#333" stroke-width="0.12">.001</text>
<text x="281.10" y="263.70" font-size="7" fill="#333" text-anchor="start" font-style="italic" stroke="#333" stroke-width="0.12">P</text>
<text x="287.80" y="263.70" font-size="7" fill="#333" text-anchor="start" stroke="#333" stroke-width="0.12">&lt;</text>
<text x="293.40" y="263.70" font-size="7" fill="#333" text-anchor="start" textLength="13.90" lengthAdjust="spacingAndGlyphs" stroke="#333" stroke-width="0.12">.001</text>
<polyline points="207.50,271.10 224.20,271.00 244.40,270.40 264.60,269.00 284.80,267.80 305.40,266.40" fill="none" stroke="#2e6aa6" stroke-width="1.2" stroke-linejoin="round"/>
<polyline points="207.50,271.10 212.10,271.00 220.20,266.40 234.30,262.40 254.50,258.30 268.60,256.30 284.80,254.30 305.40,250.90" fill="none" stroke="#52296c" stroke-width="1.2" stroke-linejoin="round"/>
<polyline points="207.50,271.10 208.50,271.00 214.10,267.40 220.20,261.40 230.30,256.30 236.30,254.90 242.40,250.90 248.40,248.20 254.50,245.20 264.60,245.20 268.60,242.20 274.70,240.20 288.80,238.70 305.40,238.70" fill="none" stroke="#c8234a" stroke-width="1.2" stroke-linejoin="round"/>
<line x1="188.50" y1="312.70" x2="199.60" y2="312.70" stroke="#2f4f7a" stroke-width="1.5"/>
<line x1="188.50" y1="320.20" x2="199.60" y2="320.20" stroke="#5a3a78" stroke-width="1.5"/>
<line x1="188.50" y1="327.80" x2="199.60" y2="327.80" stroke="#c0375a" stroke-width="1.5"/>
<text x="208.40" y="314.70" font-size="6.9" fill="#333" text-anchor="middle" textLength="12.75" lengthAdjust="spacingAndGlyphs" stroke="#333" stroke-width="0.12">403</text>
<text x="208.40" y="322.20" font-size="6.9" fill="#333" text-anchor="middle" textLength="12.75" lengthAdjust="spacingAndGlyphs" stroke="#333" stroke-width="0.12">224</text>
<text x="208.40" y="329.80" font-size="6.9" fill="#333" text-anchor="middle" textLength="8.50" lengthAdjust="spacingAndGlyphs" stroke="#333" stroke-width="0.12">83</text>
<text x="241.30" y="314.70" font-size="6.9" fill="#333" text-anchor="middle" textLength="12.75" lengthAdjust="spacingAndGlyphs" stroke="#333" stroke-width="0.12">380</text>
<text x="241.30" y="322.20" font-size="6.9" fill="#333" text-anchor="middle" textLength="12.75" lengthAdjust="spacingAndGlyphs" stroke="#333" stroke-width="0.12">180</text>
<text x="241.30" y="329.80" font-size="6.9" fill="#333" text-anchor="middle" textLength="8.50" lengthAdjust="spacingAndGlyphs" stroke="#333" stroke-width="0.12">57</text>
<text x="274.00" y="314.70" font-size="6.9" fill="#333" text-anchor="middle" textLength="12.75" lengthAdjust="spacingAndGlyphs" stroke="#333" stroke-width="0.12">340</text>
<text x="274.00" y="322.20" font-size="6.9" fill="#333" text-anchor="middle" textLength="12.75" lengthAdjust="spacingAndGlyphs" stroke="#333" stroke-width="0.12">143</text>
<text x="274.00" y="329.80" font-size="6.9" fill="#333" text-anchor="middle" textLength="8.50" lengthAdjust="spacingAndGlyphs" stroke="#333" stroke-width="0.12">36</text>
<text x="306.70" y="314.70" font-size="6.9" fill="#333" text-anchor="middle" textLength="12.75" lengthAdjust="spacingAndGlyphs" stroke="#333" stroke-width="0.12">311</text>
<text x="306.70" y="322.20" font-size="6.9" fill="#333" text-anchor="middle" textLength="12.75" lengthAdjust="spacingAndGlyphs" stroke="#333" stroke-width="0.12">127</text>
<text x="306.70" y="329.80" font-size="6.9" fill="#333" text-anchor="middle" textLength="8.50" lengthAdjust="spacingAndGlyphs" stroke="#333" stroke-width="0.12">32</text>
<text x="347.20" y="179.10" font-size="10.2" fill="#111" text-anchor="start" font-weight="bold">F</text>
<text x="388.70" y="190.40" font-size="8.7" fill="#222" text-anchor="start" textLength="93.70" lengthAdjust="spacingAndGlyphs" stroke="#222" stroke-width="0.12">Decision Curve Analysis</text>
<clipPath id="gc"><polygon points="370,237 404,237 415.4,244.8 470,244.8 470,280 370,280"/></clipPath><g clip-path="url(#gc)">
<polygon points="382.40,188.00 383.64,190.56 384.89,193.14 386.13,195.76 387.37,198.41 388.62,201.09 389.86,203.81 391.11,206.56 392.35,209.34 393.59,212.16 394.84,215.02 396.08,217.91 397.32,220.84 398.57,223.80 399.81,226.81 401.05,229.85 402.30,232.94 403.54,236.06 404.79,239.23 406.03,242.44 407.27,245.70 408.52,248.99 409.76,252.34 411.00,255.73 412.25,259.17 413.49,262.65 414.73,266.19 415.98,269.77 417.22,272.00 429.63,272.00 427.94,269.83 426.25,265.99 424.57,262.23 422.88,258.54 421.19,254.93 419.51,251.39 417.82,247.92 416.13,244.51 414.45,241.17 412.76,237.90 411.07,234.68 409.39,231.53 407.70,228.43 406.01,225.39 404.33,222.40 402.64,219.47 400.95,216.59 399.27,213.77 397.58,210.99 395.89,208.26 394.21,205.57 392.52,202.93 390.83,200.34 389.15,197.79 387.46,195.28 385.77,192.81 384.09,190.39 382.40,188.00" fill="#cdd0de" stroke="none" stroke-width="0"/>
<polyline points="382.40,188.00 383.64,190.56 384.89,193.14 386.13,195.76 387.37,198.41 388.62,201.09 389.86,203.81 391.11,206.56 392.35,209.34 393.59,212.16 394.84,215.02 396.08,217.91 397.32,220.84 398.57,223.80 399.81,226.81 401.05,229.85 402.30,232.94 403.54,236.06 404.79,239.23 406.03,242.44 407.27,245.70 408.52,248.99 409.76,252.34 411.00,255.73 412.25,259.17 413.49,262.65 414.73,266.19 415.98,269.77 417.22,272.00" fill="none" stroke="#50535f" stroke-width="0.9" stroke-linejoin="round"/>
<polyline points="382.40,188.00 384.09,190.39 385.77,192.81 387.46,195.28 389.15,197.79 390.83,200.34 392.52,202.93 394.21,205.57 395.89,208.26 397.58,210.99 399.27,213.77 400.95,216.59 402.64,219.47 404.33,222.40 406.01,225.39 407.70,228.43 409.39,231.53 411.07,234.68 412.76,237.90 414.45,241.17 416.13,244.51 417.82,247.92 419.51,251.39 421.19,254.93 422.88,258.54 424.57,262.23 426.25,265.99 427.94,269.83 429.63,272.00" fill="none" stroke="#50535f" stroke-width="0.9" stroke-linejoin="round"/>
<polyline points="382.40,188.00 383.87,190.47 385.33,192.98 386.80,195.52 388.26,198.10 389.73,200.72 391.19,203.37 392.66,206.07 394.12,208.80 395.59,211.58 397.05,214.40 398.52,217.26 399.98,220.16 401.45,223.11 402.91,226.11 404.38,229.15 405.84,232.25 407.31,235.39 408.77,238.58 410.24,241.82 411.70,245.12 413.17,248.47 414.63,251.88 416.10,255.34 417.56,258.86 419.03,262.45 420.49,266.09 421.96,269.80 423.42,272.00" fill="none" stroke="#30323c" stroke-width="1.2" stroke-linejoin="round"/>
</g>
<polygon points="382.40,188.00 394.00,210.00 404.20,227.80 413.70,239.70 420.00,241.00 428.00,241.90 431.80,243.30 443.70,249.20 455.00,256.00 467.70,262.70 490.40,269.40 490.60,270.00 462.00,270.00 458.90,269.00 450.00,267.20 443.70,262.00 431.80,257.50 419.80,251.30 411.00,246.50 406.50,241.00 401.90,231.40 395.90,217.10 389.00,202.00 382.40,188.00" fill="#fbd6b4" stroke="none" stroke-width="0"/>
<polyline points="382.40,188.00 394.00,210.00 404.20,227.80 413.70,239.70 420.00,241.00 428.00,241.90 431.80,243.30 443.70,249.20 455.00,256.00 467.70,262.70 490.40,269.40" fill="none" stroke="#d3ab66" stroke-width="0.9" stroke-linejoin="round"/>
<polyline points="382.40,188.00 389.00,202.00 395.90,217.10 401.90,231.40 406.50,241.00 411.00,246.50 419.80,251.30 431.80,257.50 443.70,262.00 450.00,267.20 458.90,269.00 462.00,270.00 490.60,270.00" fill="none" stroke="#f2b070" stroke-width="0.9" stroke-linejoin="round"/>
<polyline points="382.40,188.00 390.50,203.50 398.90,218.90 405.40,233.70 410.00,240.50 414.00,245.00 420.00,246.00 430.00,248.60 440.10,252.20 450.00,257.90 458.90,261.40 472.20,268.50 480.00,269.80" fill="none" stroke="#ee8a22" stroke-width="1.5" stroke-linejoin="round"/>
<polygon points="382.40,188.00 388.50,200.00 395.60,208.90 401.90,211.20 407.80,218.30 413.70,220.70 420.00,225.40 424.70,227.50 431.00,231.50 437.80,237.40 443.70,241.50 450.80,243.30 463.30,245.00 469.50,249.40 479.30,251.20 490.40,255.20 490.40,268.10 479.30,266.30 467.70,259.60 458.00,255.40 450.00,255.20 440.10,250.70 430.00,245.60 420.00,239.70 414.00,235.00 409.00,230.20 400.70,219.50 393.00,210.00 382.40,188.00" fill="rgba(165,220,150,0.5)" stroke="none" stroke-width="0"/>
<polyline points="382.40,188.00 388.50,200.00 395.60,208.90 401.90,211.20 407.80,218.30 413.70,220.70 420.00,225.40 424.70,227.50 431.00,231.50 437.80,237.40 443.70,241.50 450.80,243.30 463.30,245.00 469.50,249.40 479.30,251.20 490.40,255.20" fill="none" stroke="#6f9f64" stroke-width="1.0" stroke-linejoin="round"/>
<polyline points="382.40,188.00 393.00,210.00 400.70,219.50 409.00,230.20 414.00,235.00 420.00,239.70 430.00,245.60 440.10,250.70 450.00,255.20 458.00,255.40 467.70,259.60 479.30,266.30 490.40,268.10" fill="none" stroke="#86955e" stroke-width="1.0" stroke-linejoin="round"/>
<polyline points="382.40,188.00 389.40,200.90 394.80,208.90 401.90,217.10 411.40,224.80 418.50,231.40 420.00,232.70 427.10,238.40 430.00,240.60 435.00,243.10 440.10,246.60 445.10,248.60 450.00,249.30 458.90,252.50 467.70,254.80 474.80,257.40 480.20,256.60 483.70,260.50 490.40,264.10" fill="none" stroke="#3d9b3a" stroke-width="1.6" stroke-linejoin="round"/>
<line x1="377.75" y1="186.30" x2="377.75" y2="272.60" stroke="#1a1a1a" stroke-width="1.1"/>
<line x1="374.90" y1="269.00" x2="377.75" y2="269.00" stroke="#1a1a1a" stroke-width="0.9"/>
<text x="372.10" y="271.30" font-size="7" fill="#333" text-anchor="end" textLength="10.90" lengthAdjust="spacingAndGlyphs" stroke="#333" stroke-width="0.12">0.0</text>
<line x1="374.90" y1="252.80" x2="377.75" y2="252.80" stroke="#1a1a1a" stroke-width="0.9"/>
<text x="372.10" y="255.10" font-size="7" fill="#333" text-anchor="end" textLength="10.90" lengthAdjust="spacingAndGlyphs" stroke="#333" stroke-width="0.12">0.2</text>
<line x1="374.90" y1="236.60" x2="377.75" y2="236.60" stroke="#1a1a1a" stroke-width="0.9"/>
<text x="372.10" y="238.90" font-size="7" fill="#333" text-anchor="end" textLength="10.90" lengthAdjust="spacingAndGlyphs" stroke="#333" stroke-width="0.12">0.4</text>
<line x1="374.90" y1="220.40" x2="377.75" y2="220.40" stroke="#1a1a1a" stroke-width="0.9"/>
<text x="372.10" y="222.70" font-size="7" fill="#333" text-anchor="end" textLength="10.90" lengthAdjust="spacingAndGlyphs" stroke="#333" stroke-width="0.12">0.6</text>
<line x1="374.90" y1="204.20" x2="377.75" y2="204.20" stroke="#1a1a1a" stroke-width="0.9"/>
<text x="372.10" y="206.50" font-size="7" fill="#333" text-anchor="end" textLength="10.90" lengthAdjust="spacingAndGlyphs" stroke="#333" stroke-width="0.12">0.8</text>
<line x1="374.90" y1="188.00" x2="377.75" y2="188.00" stroke="#1a1a1a" stroke-width="0.9"/>
<text x="372.10" y="190.30" font-size="7" fill="#333" text-anchor="end" textLength="10.90" lengthAdjust="spacingAndGlyphs" stroke="#333" stroke-width="0.12">1.0</text>
<line x1="377.20" y1="272.10" x2="493.80" y2="272.10" stroke="#1a1a1a" stroke-width="1.1"/>
<line x1="382.40" y1="272.10" x2="382.40" y2="274.60" stroke="#1a1a1a" stroke-width="0.9"/>
<text x="382.40" y="284.80" font-size="7" fill="#333" text-anchor="middle" textLength="10.90" lengthAdjust="spacingAndGlyphs" stroke="#333" stroke-width="0.12">0.0</text>
<line x1="403.22" y1="272.10" x2="403.22" y2="274.60" stroke="#1a1a1a" stroke-width="0.9"/>
<text x="403.22" y="284.80" font-size="7" fill="#333" text-anchor="middle" textLength="10.90" lengthAdjust="spacingAndGlyphs" stroke="#333" stroke-width="0.12">0.1</text>
<line x1="424.04" y1="272.10" x2="424.04" y2="274.60" stroke="#1a1a1a" stroke-width="0.9"/>
<text x="424.04" y="284.80" font-size="7" fill="#333" text-anchor="middle" textLength="10.90" lengthAdjust="spacingAndGlyphs" stroke="#333" stroke-width="0.12">0.2</text>
<line x1="444.86" y1="272.10" x2="444.86" y2="274.60" stroke="#1a1a1a" stroke-width="0.9"/>
<text x="444.86" y="284.80" font-size="7" fill="#333" text-anchor="middle" textLength="10.90" lengthAdjust="spacingAndGlyphs" stroke="#333" stroke-width="0.12">0.3</text>
<line x1="465.68" y1="272.10" x2="465.68" y2="274.60" stroke="#1a1a1a" stroke-width="0.9"/>
<text x="465.68" y="284.80" font-size="7" fill="#333" text-anchor="middle" textLength="10.90" lengthAdjust="spacingAndGlyphs" stroke="#333" stroke-width="0.12">0.4</text>
<line x1="486.50" y1="272.10" x2="486.50" y2="274.60" stroke="#1a1a1a" stroke-width="0.9"/>
<text x="486.50" y="284.80" font-size="7" fill="#333" text-anchor="middle" textLength="10.90" lengthAdjust="spacingAndGlyphs" stroke="#333" stroke-width="0.12">0.5</text>
<text x="393.80" y="297.00" font-size="8.2" fill="#222" text-anchor="start" font-weight="bold" textLength="84.00" lengthAdjust="spacingAndGlyphs">High risk threshold/preference</text>
<text x="0.00" y="0.00" font-size="8.8" fill="#222" text-anchor="middle" textLength="67.50" lengthAdjust="spacingAndGlyphs" stroke="#222" stroke-width="0.1" transform="translate(356.3,229.3) rotate(-90)">Standardized net benefit</text>
<line x1="347.10" y1="312.20" x2="356.10" y2="312.20" stroke="#444" stroke-width="1.4"/>
<text x="359.80" y="313.90" font-size="7" fill="#333" text-anchor="start" textLength="23.50" lengthAdjust="spacingAndGlyphs" stroke="#333" stroke-width="0.12">Treat all</text>
<line x1="388.75" y1="311.90" x2="398.10" y2="311.90" stroke="#e8a75a" stroke-width="1.5"/>
<text x="401.25" y="313.90" font-size="7" fill="#333" text-anchor="start" textLength="33.90" lengthAdjust="spacingAndGlyphs" stroke="#333" stroke-width="0.12">HSL model</text>
<line x1="441.20" y1="311.80" x2="449.40" y2="311.80" stroke="#5ea35a" stroke-width="1.4"/>
<text x="453.00" y="314.00" font-size="7" fill="#333" text-anchor="start" textLength="58.20" lengthAdjust="spacingAndGlyphs" stroke="#333" stroke-width="0.12">HSL model + MAP</text>
<text x="408.65" y="327.00" font-size="7" fill="#333" text-anchor="start" textLength="42.30" lengthAdjust="spacingAndGlyphs" stroke="#333" stroke-width="0.12">6 month NRM</text>
<rect x="0.6" y="0.5" width="518.8" height="337" fill="none" stroke="#5a5a5a" stroke-width="1.2"/>
</g></svg>
</body></html>
